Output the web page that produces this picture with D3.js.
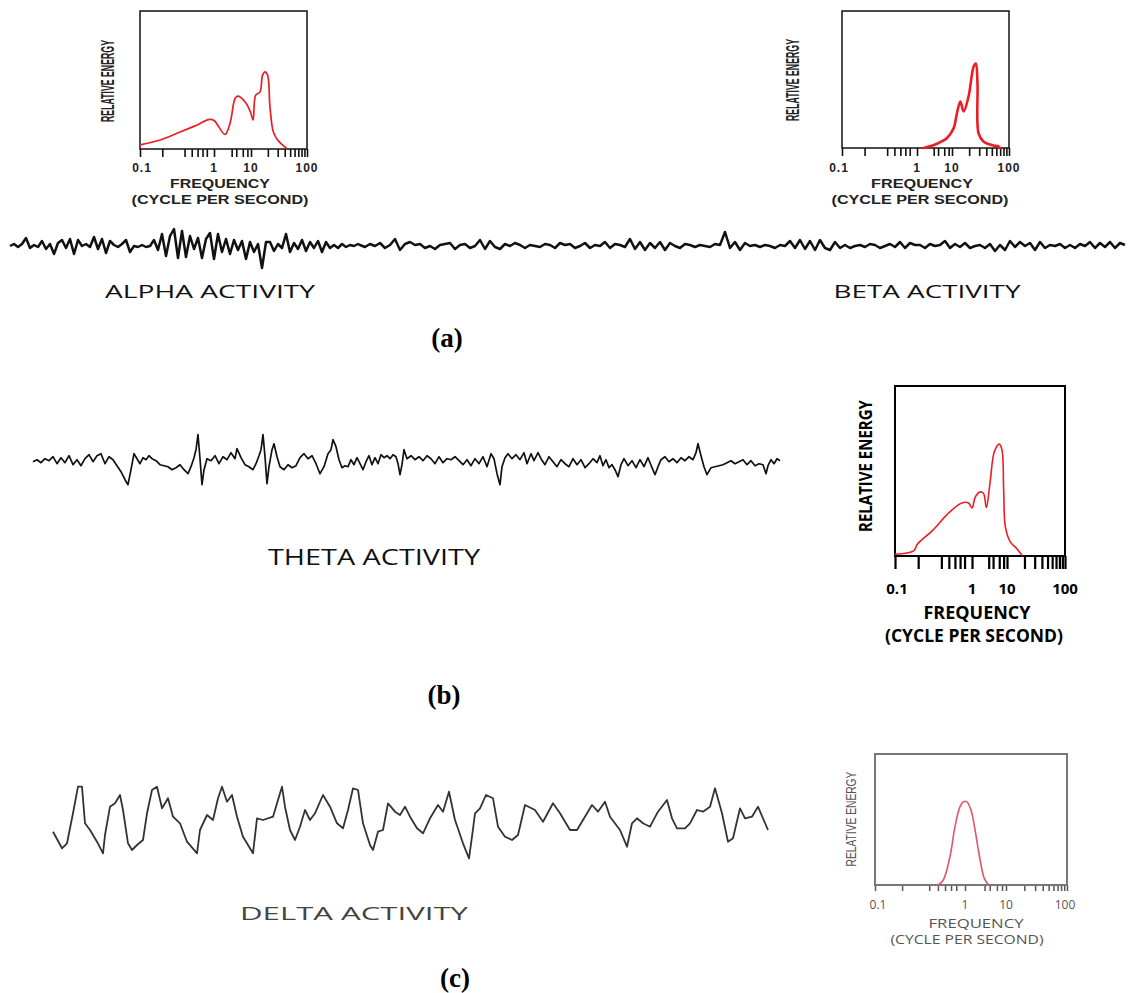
<!DOCTYPE html>
<html><head><meta charset="utf-8">
<script src="https://cdn.jsdelivr.net/npm/d3@7"></script>
<style>body{margin:0;background:#fff}svg{display:block}</style>
</head><body>
<script>
// ---------------- DATA ----------------
const freqTickValues = [0.1, 1, 10, 100];
const freqTickLabels = ["0.1", "1", "10", "100"];
const minorFreqTicks = [0.2,0.4,0.5,0.6,0.7,0.8,3,4,6,8,20,30,40,50,60,70,80,90];

// power spectra (frequency in Hz, relative energy 0..1)
const alphaSpecFreq   = [0.1,0.188,0.355,0.545,0.88,1.02,1.98,2.71,3.7,4.36,6.88,9.6,10.9,12.1,14.5,16.1,17.8,19.8,21.8,25,29.9,43.3];
const alphaSpecEnergy = [0.03,0.065,0.125,0.166,0.214,0.205,0.106,0.186,0.366,0.383,0.342,0.27,0.21,0.39,0.414,0.535,0.559,0.535,0.306,0.125,0.065,0.005];

const betaSpecFreq    = [1.55,3.73,7.2,10.7,12.2,14,16,19.5,23.9,26.2,28,29.2,35.6,53.3,65,69.5];
const betaSpecEnergy  = [0,0.031,0.073,0.145,0.254,0.339,0.266,0.375,0.593,0.617,0.472,0.109,0.048,0.019,0.012,0];

const thetaSpecFreq   = [0.1,0.175,0.195,0.308,0.514,0.736,0.9,1,1.245,1.73,2.15,2.57,3.34,4.35,6.04,7.2,8.03,8.99,11.4,14.8,18.1];
const thetaSpecEnergy = [0.01,0.03,0.069,0.151,0.259,0.312,0.312,0.283,0.348,0.377,0.367,0.285,0.446,0.613,0.658,0.623,0.387,0.171,0.083,0.043,0.004];

const deltaSpecFreq   = [0.505,0.574,0.681,0.774,0.88,0.96,1.1,1.4,1.76,2.34,2.95,3.75];
const deltaSpecEnergy = [0,0.038,0.216,0.445,0.598,0.636,0.636,0.573,0.42,0.191,0.051,0];

// EEG traces (amplitude, arbitrary units; positive = up)
const alphaTrace = [0,2,-1,2,8,-2,1,-1,5,-3,2,-8,3,6,-2,7,-8,6,0,2,-1,9,-3,7,-7,5,1,-1,2,6,-6,0,-1,1,-1,0,6,-4,12,-10,10,17,-12,15,-11,10,-3,8,-12,7,13,-13,12,-6,7,-8,6,-4,5,-13,4,-6,2,-22,4,4,-5,2,-2,12,-6,3,-3,6,-5,4,-2,5,-6,4,-2,1,-2,2,-1,1,0,2];
const betaTrace = [
  1,-1,2,0,3,-2,1,7,-4,2,   4,1,2,-2,0,-3,1,2,3,-3,   1,2,-2,0,6,-3,5,-1,-3,2,
  0,3,1,-2,1,0,-1,2,1,-2,   3,1,2,-2,0,3,-2,1,0,4,    -2,2,1,-1,7,-3,4,-4,3,-2,
  4,-4,3,0,-2,2,1,-1,1,0,   -1,2,1,14,-2,4,-4,3,0,1,  -1,1,0,-2,1,0,5,-2,6,-3,
  5,-4,6,-2,-4,4,-2,1,-2,0, 1,-1,2,1,-2,0,2,-1,4,-2,  3,1,1,-2,2,0,1,5,-2,2,
  -1,3,-2,0,1,-2,2,-5,1,-4, 5,-1,4,0,3,-4,4,-2,1,0,   2,-2,1,-2,2,0,4,-2,3,-1,
  4,-2,3,1];

const thetaTime = [0,4,8,12,16,20,24,28,32,36,40,44,48,52,56,60,64,68,72,76,80,84,88,92,95,98,101,104,107,110,113,116,119,123,127,131,135,139,143,147,151,155,158,161,163,165,167,169,171,174,178,182,186,190,194,198,202,204,208,212,216,220,223,226,228,230,232,234,236,239,241,244,247,251,255,259,263,267,271,275,279,283,287,291,295,298,300,303,306,309,312,315,318,321,324,327,330,333,336,339,342,345,348,351,354,357,360,363,365,367,369,371,374,378,382,386,390,394,398,402,406,410,414,418,422,426,430,434,438,442,446,450,454,458,461,464,467,469,472,475,479,483,487,491,494,498,501,505,508,512,516,520,524,528,532,536,540,544,548,552,556,560,564,567,570,573,576,579,582,585,588,591,595,599,603,607,611,615,619,622,625,628,632,636,640,644,648,652,656,660,663,665,668,671,674,678,682,686,690,694,698,702,706,710,714,718,722,726,730,733,735,738,741,744,747];
const thetaAmp  = [0,2,-1,3,1,5,-2,4,-1,6,-3,2,-4,3,7,0,6,8,-2,5,2,-4,-10,-18,-23,-8,8,3,-2,4,2,6,3,1,-3,-4,-5,-8,-6,-3,-8,-12,-5,4,12,27,3,-23,-8,3,1,6,-2,5,2,9,3,13,4,-3,-5,-8,-2,6,12,27,5,-22,-5,12,18,5,-5,-8,-3,-6,-4,4,8,3,6,-2,-12,-5,8,12,22,15,2,-6,-4,-5,2,-3,4,-2,-8,0,6,-3,4,-2,7,4,6,3,7,5,-2,-13,-3,12,3,6,2,5,1,6,3,-2,5,-1,3,2,5,1,-3,2,-4,3,-2,5,-5,8,3,-12,-23,-5,4,8,3,7,2,9,-2,8,1,9,3,-3,5,0,-5,2,-2,-5,3,-3,2,-6,-2,3,-1,6,-4,2,-6,-3,-8,-15,-3,3,-4,1,-6,2,-5,4,-6,-13,-5,2,5,0,3,-1,4,1,5,2,9,18,6,-5,-13,-6,-5,-4,-3,-1,1,-2,0,2,-3,1,-4,-2,-3,-12,-4,2,-2,3,1];

const deltaTime = [0,9,14,20,25,29,32,37,44,50,52,57,62,67,70,75,79,84,90,94,99,104,109,115,120,127,134,144,147,154,160,165,169,174,179,184,190,200,204,210,220,225,229,232,237,242,247,252,257,262,270,277,284,290,295,300,305,310,317,320,325,330,335,342,347,352,357,364,370,377,385,390,396,402,410,416,419,422,427,433,440,445,452,459,465,472,482,490,500,507,517,524,530,539,545,552,557,567,574,579,584,590,597,605,614,619,624,632,637,644,650,657,662,669,675,680,687,692,699,705,715];
const deltaAmp  = [-11.7,-28.3,-23.3,6.7,33.3,33.3,-3.3,-10,-21.7,-33.3,-15,13.3,16.7,25,10,-23.3,-30,-25,-20,6.7,30,33.3,11.7,21.7,3.3,-3.3,-21.7,-33.3,-10,5,0,21.7,33.3,18.3,25,3.3,-16.7,-33.3,1.7,0,3.3,20,33.3,13.3,-10,-20,-6.7,10,0,6.7,25,13.3,-3.3,-8.3,10,31.7,30,-3.3,-25,-30,-11.7,-10,16.7,8.3,5,13.3,3.3,-8.3,-13.3,1.7,15,8.3,28.3,0,-23.3,-38.3,-16.7,6.7,11.7,25,21.7,-6.7,-16.7,-20,-15,15,10,-1.7,16.7,6.7,-10,-10,0,15,8.3,18.3,3.3,-10,-26.7,-3.3,1.7,-3.3,-6.7,8.3,20,1.7,-8.3,-8.3,-3.3,10,8.3,13.3,31.7,6.7,-21.7,-18.3,11.7,1.7,3.3,13.3,-10];

// text
const activityLabels = ["ALPHA ACTIVITY","BETA ACTIVITY","THETA ACTIVITY","DELTA ACTIVITY"];
const panelLetters = ["(a)","(b)","(c)"];

// ---------------- DRAWING ----------------
const W = 1132, H = 993;
const svg = d3.select("body").append("svg").attr("width", W).attr("height", H)
  .style("background", "#fff");

function drawSpectrum(p, freq, energy) {
  const g = svg.append("g");
  const x = d3.scaleLog().domain(freqTickValues).range(p.anchors);
  const y = d3.scaleLinear().domain([0, 1]).range([p.bottom, p.top]);

  // ticks
  const axis = d3.axisBottom(x).tickValues(freqTickValues.concat(minorFreqTicks))
    .tickSize(p.tickLen).tickFormat("");
  const ag = g.append("g").attr("transform", `translate(0,${p.bottom})`).call(axis);
  ag.select(".domain").remove();
  ag.selectAll("line").attr("stroke", p.tickColor).attr("stroke-width", p.tickW);

  // box
  g.append("rect").attr("x", p.left).attr("y", p.top)
    .attr("width", p.right - p.left).attr("height", p.bottom - p.top)
    .attr("fill", "none").attr("stroke", p.boxColor).attr("stroke-width", p.boxW);

  // curve
  const line = d3.line().x(d => x(d[0])).y(d => y(d[1])).curve(d3.curveCatmullRom.alpha(0.5));
  g.append("path").datum(d3.zip(freq, energy)).attr("d", line)
    .attr("fill", "none").attr("stroke", p.curveColor).attr("stroke-width", p.curveW)
    .attr("stroke-linejoin", "round").attr("stroke-linecap", "round");

  // tick labels
  g.selectAll("text.tl").data(freqTickValues).join("text").attr("class", "tl")
    .attr("x", (d, i) => x(d) + (p.labelShift ? p.labelShift[i] : 0))
    .attr("y", p.tickLabelY)
    .attr("text-anchor", "middle")
    .attr("font-family", p.font).attr("font-weight", p.weight)
    .attr("font-size", p.tickFont).attr("fill", p.textColor)
    .attr("letter-spacing", p.tickSpacing || 0)
    .text((d, i) => freqTickLabels[i]);

  // axis titles
  g.append("text").attr("x", p.freq.x).attr("y", p.freq.y)
    .attr("text-anchor", "middle").attr("font-family", p.font).attr("font-weight", p.weight)
    .attr("font-size", p.freq.size).attr("fill", p.textColor)
    .attr("textLength", p.freq.len).attr("lengthAdjust", "spacingAndGlyphs")
    .text("FREQUENCY");
  g.append("text").attr("x", p.cycle.x).attr("y", p.cycle.y)
    .attr("text-anchor", "middle").attr("font-family", p.font).attr("font-weight", p.weight)
    .attr("font-size", p.cycle.size).attr("fill", p.textColor)
    .attr("textLength", p.cycle.len).attr("lengthAdjust", "spacingAndGlyphs")
    .text("(CYCLE PER SECOND)");

  // rotated y title, horizontally condensed to the target length
  const yt = g.append("text")
    .attr("text-anchor", "middle").attr("dy", "0.35em")
    .attr("font-family", p.ylabFont || p.font).attr("font-weight", p.ylabWeight || p.weight)
    .attr("font-size", p.ylab.size).attr("fill", p.textColor)
    .text("RELATIVE ENERGY");
  const natural = yt.node().getComputedTextLength();
  const sx = p.ylab.len / natural;
  yt.attr("transform", `translate(${p.ylab.x},${p.ylab.y}) rotate(-90) scale(${sx},1)`);
}

const fontA = "'Liberation Sans', Arial, sans-serif";
drawSpectrum({
  left: 140, right: 307, top: 11, bottom: 149, anchors: [140, 214, 251, 307],
  tickLen: 8, tickW: 1.6, tickColor: "#111", boxColor: "#111", boxW: 1.5,
  curveColor: "#ee1c25", curveW: 1.7,
  font: fontA, weight: 700, textColor: "#222", tickFont: 12, tickLabelY: 172, tickSpacing: 1,
  labelShift: [2, 0, 0, 0],
  ylab: { x: 108, y: 81, len: 82, size: 18 },
  freq: { x: 220, y: 188, len: 100, size: 12 },
  cycle: { x: 220, y: 204, len: 177, size: 12 }
}, alphaSpecFreq, alphaSpecEnergy);

drawSpectrum({
  left: 842, right: 1009, top: 11, bottom: 148, anchors: [842, 917, 952, 1009],
  tickLen: 8, tickW: 1.6, tickColor: "#111", boxColor: "#111", boxW: 1.5,
  curveColor: "#ee1c25", curveW: 2.6,
  font: fontA, weight: 700, textColor: "#222", tickFont: 12, tickLabelY: 172, tickSpacing: 1,
  labelShift: [-3, 0, 0, 0],
  ylab: { x: 793, y: 80, len: 82, size: 18 },
  freq: { x: 922, y: 188, len: 102, size: 12 },
  cycle: { x: 920, y: 204, len: 177, size: 12 }
}, betaSpecFreq, betaSpecEnergy);

drawSpectrum({
  left: 895, right: 1065, top: 386, bottom: 556, anchors: [895, 972, 1007, 1065],
  tickLen: 13, tickW: 2.2, tickColor: "#000", boxColor: "#000", boxW: 2,
  curveColor: "#ee1c25", curveW: 1.6,
  font: "'Open Sans', sans-serif", weight: 700, textColor: "#000", tickFont: 15, tickLabelY: 594,
  labelShift: [2, 0, 0, 0],
  ylab: { x: 866, y: 466, len: 132, size: 17 },
  freq: { x: 977, y: 619, len: 107, size: 17 },
  cycle: { x: 974, y: 642, len: 178, size: 17 }
}, thetaSpecFreq, thetaSpecEnergy);

drawSpectrum({
  left: 875, right: 1067, top: 754, bottom: 885, anchors: [875, 965, 1006, 1067],
  tickLen: 6, tickW: 1.5, tickColor: "#555", boxColor: "#777", boxW: 2,
  curveColor: "#e0566a", curveW: 1.6,
  font: "'Open Sans', sans-serif", weight: 400, textColor: "#555", tickFont: 12, tickLabelY: 909,
  labelShift: [3, 0, 0, -2],
  ylabFont: "'Liberation Sans', Arial, sans-serif",
  ylab: { x: 851, y: 819, len: 95, size: 15 },
  freq: { x: 976, y: 928, len: 95, size: 12 },
  cycle: { x: 967, y: 944, len: 153, size: 12 }
}, deltaSpecFreq, deltaSpecEnergy);

// ---- EEG traces ----
// alpha + beta continuous trace
const xAlpha = d3.scaleLinear().domain([0, alphaTrace.length - 1]).range([10, 358]);
const xBeta  = d3.scaleLinear().domain([0, betaTrace.length - 1]).range([360, 1125]);
const yAB    = d3.scaleLinear().domain([-20, 20]).range([266, 226]);
const abPts = alphaTrace.map((v, i) => [xAlpha(i), yAB(v)])
  .concat(betaTrace.map((v, i) => [xBeta(i), yAB(v)]));
svg.append("path").datum(abPts).attr("d", d3.line())
  .attr("fill", "none").attr("stroke", "#111").attr("stroke-width", 2.5)
  .attr("stroke-linejoin", "round");

// theta
const xTheta = d3.scaleLinear().domain([0, 747]).range([33, 780]);
const yTheta = d3.scaleLinear().domain([-30, 30]).range([491.7, 431.7]);
svg.append("path").datum(d3.zip(thetaTime, thetaAmp))
  .attr("d", d3.line().x(d => xTheta(d[0])).y(d => yTheta(d[1])))
  .attr("fill", "none").attr("stroke", "#111").attr("stroke-width", 1.7)
  .attr("stroke-linejoin", "round");

// delta
const xDelta = d3.scaleLinear().domain([0, 715]).range([53, 768]);
const yDelta = d3.scaleLinear().domain([-40, 40]).range([860, 780]);
svg.append("path").datum(d3.zip(deltaTime, deltaAmp))
  .attr("d", d3.line().x(d => xDelta(d[0])).y(d => yDelta(d[1])))
  .attr("fill", "none").attr("stroke", "#333").attr("stroke-width", 1.8)
  .attr("stroke-linejoin", "round");

// ---- activity labels ----
const actLayout = [
  { x: 210, y: 298, len: 210, size: 19, color: "#111" },
  { x: 927, y: 298, len: 187, size: 19, color: "#111" },
  { x: 374, y: 565, len: 212, size: 22, color: "#111" },
  { x: 354, y: 920, len: 228, size: 19, color: "#444" }
];
activityLabels.forEach((t, i) => {
  const L = actLayout[i];
  svg.append("text").attr("x", L.x).attr("y", L.y).attr("text-anchor", "middle")
    .attr("font-family", "'Open Sans', sans-serif").attr("font-size", L.size)
    .attr("fill", L.color).attr("textLength", L.len).attr("lengthAdjust", "spacingAndGlyphs")
    .text(t);
});

// ---- panel letters ----
const letterLayout = [{ x: 447, y: 347 }, { x: 444, y: 704 }, { x: 455, y: 987 }];
panelLetters.forEach((t, i) => {
  svg.append("text").attr("x", letterLayout[i].x).attr("y", letterLayout[i].y)
    .attr("text-anchor", "middle").attr("font-family", "'Liberation Serif', 'Times New Roman', serif")
    .attr("font-weight", 700).attr("font-size", 27).attr("fill", "#000").text(t);
});
</script>
</body></html>
